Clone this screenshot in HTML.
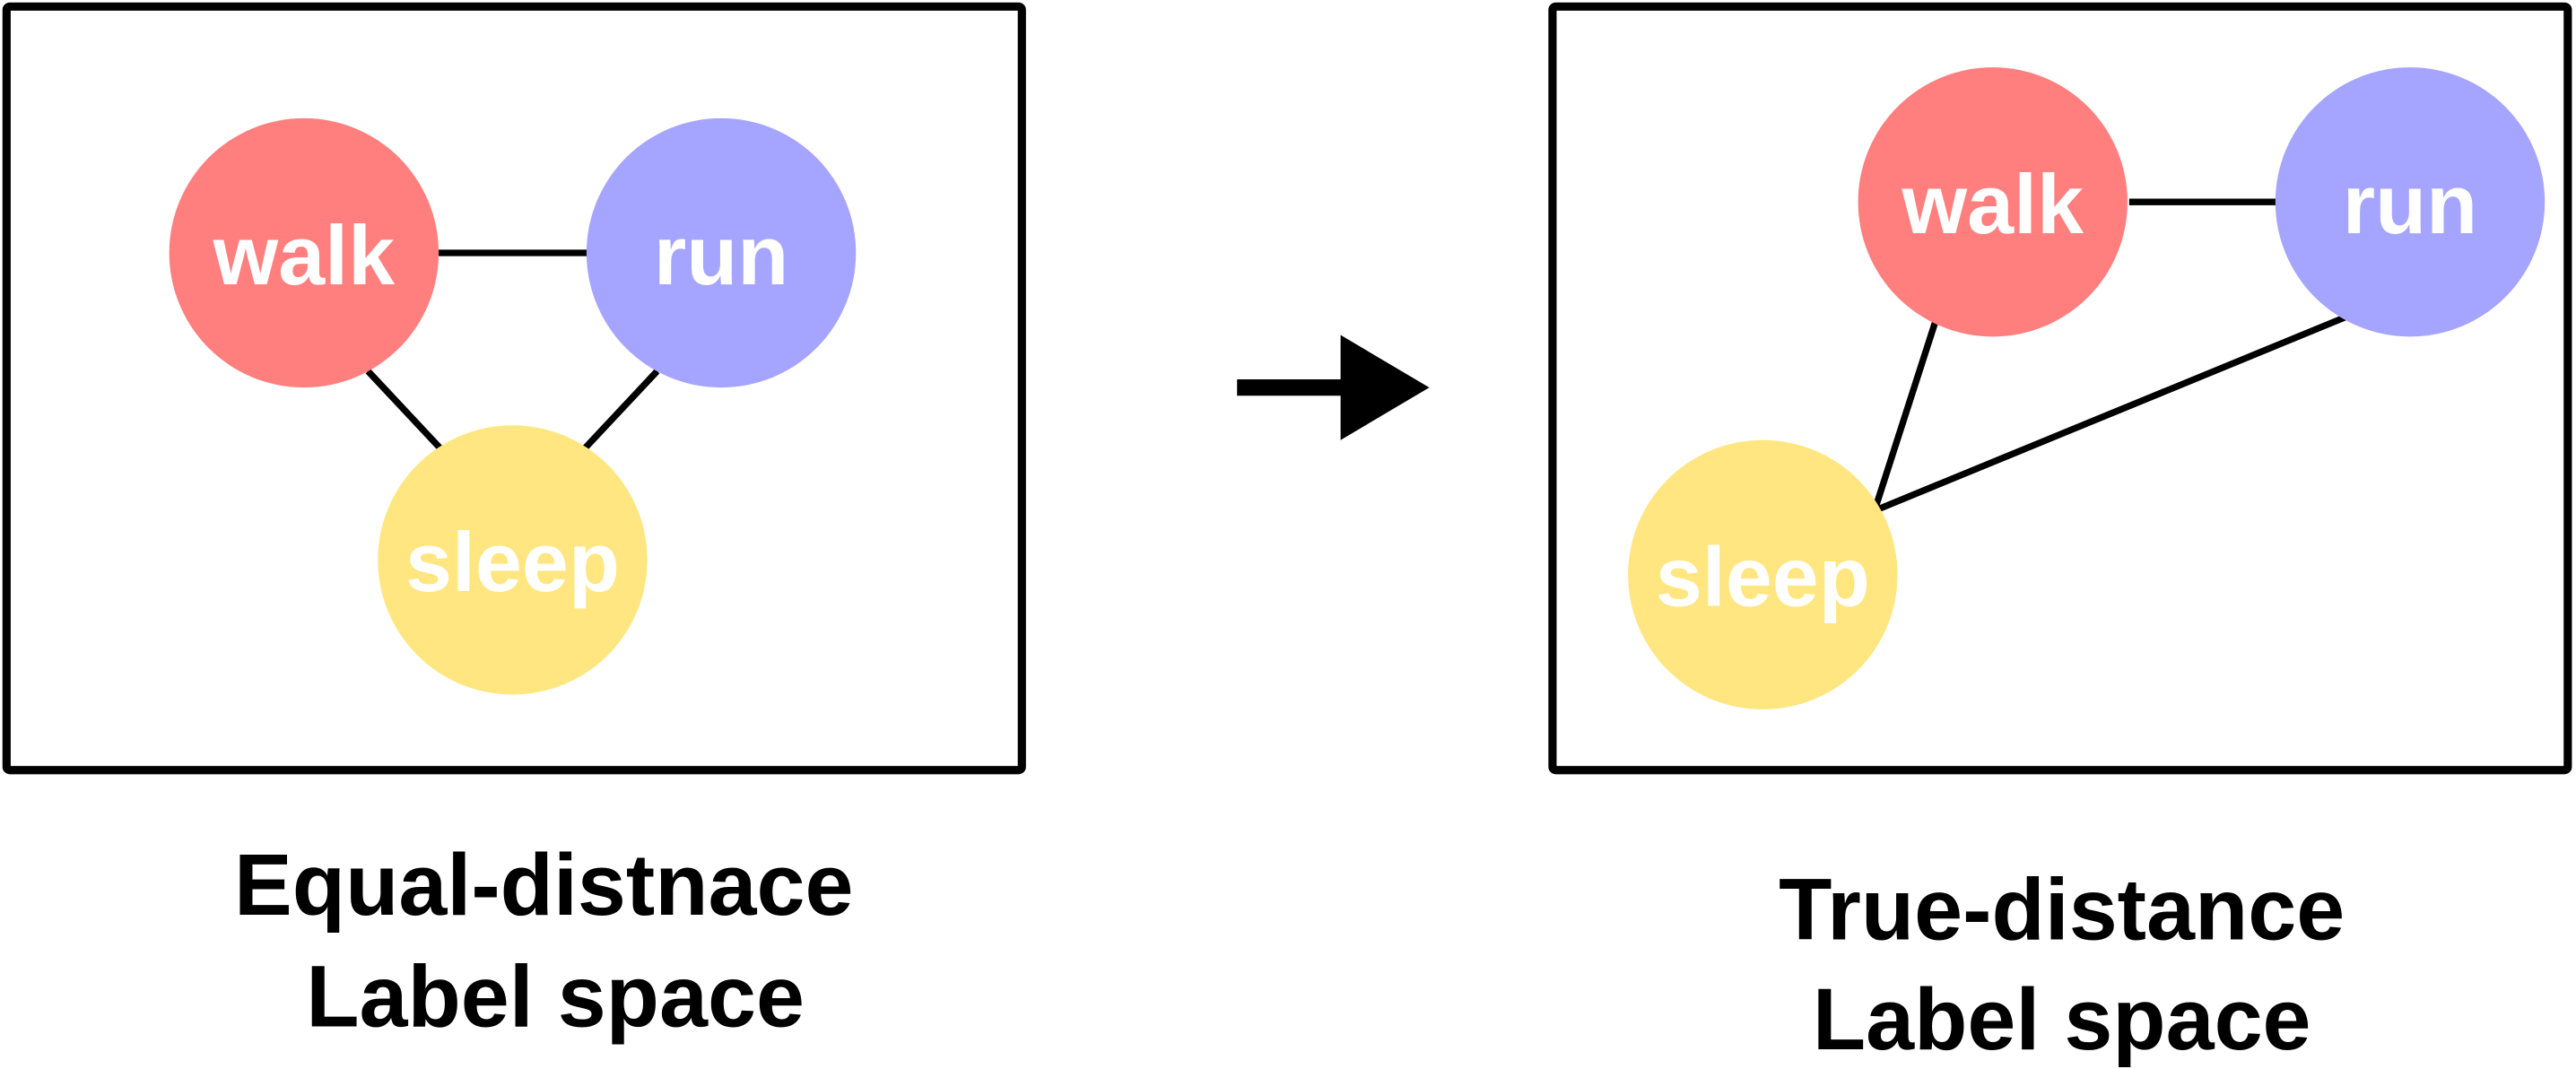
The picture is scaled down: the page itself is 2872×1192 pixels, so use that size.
<!DOCTYPE html>
<html><head><meta charset="utf-8"><style>
html,body{margin:0;padding:0;background:#fff;}
svg{display:block;}
text{font-family:"Liberation Sans",Arial,sans-serif;font-weight:bold;}
</style></head><body>
<svg width="2872" height="1192" viewBox="0 0 1568 651" preserveAspectRatio="none">
  <g>
    <rect x="4" y="4" width="618" height="465" rx="2" fill="none" stroke="#000" stroke-width="5"/>
    <line x1="267" y1="154" x2="358" y2="154" stroke="#000" stroke-width="4"/>
    <line x1="224" y1="226" x2="268" y2="273" stroke="#000" stroke-width="4"/>
    <line x1="400" y1="226" x2="356" y2="273" stroke="#000" stroke-width="4"/>
    <circle cx="185" cy="154" r="82" fill="#FF7F7F"/>
    <circle cx="439" cy="154" r="82" fill="#A5A5FF"/>
    <circle cx="312" cy="341" r="82" fill="#FFE680"/>
    <text x="185" y="173" font-size="51" fill="#fff" text-anchor="middle">walk</text>
    <text x="439" y="173" font-size="51" fill="#fff" text-anchor="middle">run</text>
    <text x="312" y="360" font-size="51" fill="#fff" text-anchor="middle">sleep</text>
    <text x="331" y="557" font-size="53" fill="#000" text-anchor="middle">Equal-distnace</text>
    <text x="338" y="625" font-size="53" fill="#000" text-anchor="middle">Label space</text>
  </g>
  <g>
    <line x1="753" y1="236" x2="818" y2="236" stroke="#000" stroke-width="10"/>
    <polygon points="816,204 870,236 816,268" fill="#000"/>
  </g>
  <g>
    <rect x="945" y="4" width="618" height="465" rx="2" fill="none" stroke="#000" stroke-width="5"/>
    <line x1="1296" y1="123" x2="1386" y2="123" stroke="#000" stroke-width="4"/>
    <polyline points="1178,196 1141,311 1428,193" fill="none" stroke="#000" stroke-width="4" stroke-linejoin="round"/>
    <circle cx="1213" cy="123" r="82" fill="#FF7F7F"/>
    <circle cx="1467" cy="123" r="82" fill="#A5A5FF"/>
    <circle cx="1073" cy="350" r="82" fill="#FFE680"/>
    <text x="1213" y="142" font-size="51" fill="#fff" text-anchor="middle">walk</text>
    <text x="1467" y="142" font-size="51" fill="#fff" text-anchor="middle">run</text>
    <text x="1073" y="369" font-size="51" fill="#fff" text-anchor="middle">sleep</text>
    <text x="1255" y="572" font-size="53" fill="#000" text-anchor="middle">True-distance</text>
    <text x="1255" y="639" font-size="53" fill="#000" text-anchor="middle">Label space</text>
  </g>
</svg>
</body></html>
